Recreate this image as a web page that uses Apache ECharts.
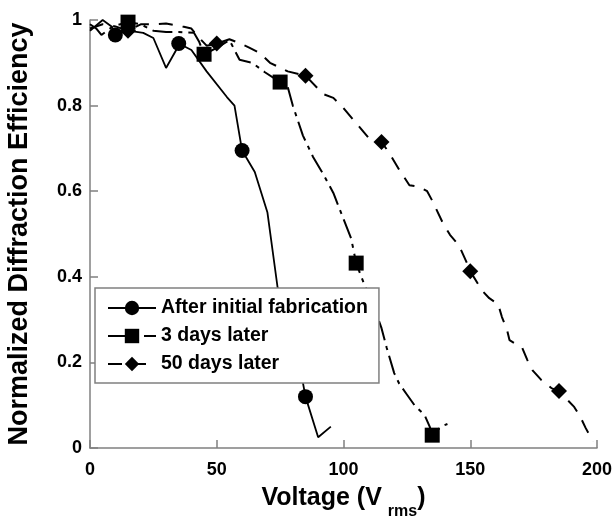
<!DOCTYPE html>
<html>
<head>
<meta charset="utf-8">
<script src="https://cdn.jsdelivr.net/npm/echarts@6/dist/echarts.min.js"></script>
<style>
  html, body { margin: 0; padding: 0; background: #fff; }
  #chart { width: 616px; height: 520px; }
</style>
</head>
<body>
<div id="chart"></div>
<script>
  // 曲线上的点 [电压, 效率]
  var freshLine = [[0,0.975],[5,1.0],[8.5,0.985],[15,0.975],[21,0.97],[25,0.958],[30,0.888],[34,0.93],
    [40,0.93],[46,0.88],[54,0.82],[57,0.8],[65,0.645],[70,0.55],[74,0.375],[80,0.25],[84,0.152],[90,0.025],[95,0.05]];
  var freshMarks = [[10,0.965],[35,0.945],[60,0.695],[85,0.12]];

  var day3Line = [[0,0.99],[2.5,0.98],[4.5,0.965],[9,0.985],[20,0.99],[25,0.975],[30,0.972],[35,0.972],[41,0.97],
    [43,0.95],[50,0.935],[55,0.953],[59,0.907],[64,0.9],[69,0.878],[77,0.865],[80,0.8],[84,0.73],[88,0.68],
    [92,0.64],[96,0.596],[100,0.535],[103,0.49],[108,0.385],[112,0.33],[115,0.28],[117,0.235],[120,0.175],
    [122,0.15],[125,0.125],[128,0.1],[132,0.077],[134,0.05],[138.5,0.05],[141,0.056]];
  var day3Marks = [[15,0.995],[45,0.92],[75,0.855],[105,0.432],[135,0.03]];

  var day50Line = [[0,0.98],[5,0.99],[10,0.985],[20,0.99],[25,0.99],[30,0.992],[37,0.984],[40,0.98],[42,0.965],
    [46,0.94],[55,0.955],[59,0.946],[63,0.935],[67,0.923],[71,0.9],[78,0.88],[92,0.827],[96,0.818],[100,0.794],
    [104,0.766],[108,0.738],[111,0.717],[118,0.69],[122,0.65],[126,0.614],[130,0.61],[133,0.6],[135,0.578],
    [139,0.528],[142,0.498],[145.5,0.474],[149,0.428],[154.5,0.369],[157.5,0.35],[161,0.336],[162.5,0.306],
    [164.5,0.276],[165.5,0.252],[170.5,0.234],[172.5,0.206],[174.5,0.182],[178,0.159],[182,0.14],[191,0.096],
    [193.5,0.072],[195.5,0.047],[198.5,0.015]];
  var day50Marks = [[15,0.975],[50,0.945],[85,0.87],[115,0.715],[150,0.413],[185,0.133]];

  var names = ['After initial fabrication', '3 days later', '50 days later'];

  var font = 'Liberation Sans, Arial, sans-serif';

  // 把线上的点和标记点合并，只有标记点显示符号
  function build(line, marks) {
    var all = line.map(function (p) { return { value: p, symbol: 'none' }; })
      .concat(marks.map(function (p) { return { value: p }; }));
    all.sort(function (a, b) { return a.value[0] - b.value[0]; });
    return all;
  }

  var myChart = echarts.init(document.getElementById('chart'));
  myChart.setOption({
    animation: false,
    color: ['#000', '#000', '#000'],
    grid: { left: 90, right: 19, top: 20, bottom: 72, containLabel: false, outerBoundsMode: 'none' },
    legend: {
      orient: 'vertical',
      left: 95,
      top: 288,
      padding: [10, 11, 9, 12],
      itemGap: 8,
      itemWidth: 48,
      itemHeight: 18,
      borderColor: '#808080',
      borderWidth: 1.5,
      backgroundColor: '#fff',
      textStyle: { color: '#000', fontSize: 19.5, fontWeight: 'bold', fontFamily: font },
      data: names
    },
    xAxis: {
      type: 'value',
      min: 0,
      max: 200,
      interval: 50,
      name: '{a|Voltage (V}{b|rms}{a|)}',
      nameLocation: 'middle',
      nameGap: 38,
      nameTextStyle: {
        rich: {
          a: { fontSize: 25, fontWeight: 'bold', fontFamily: font, color: '#000', verticalAlign: 'top' },
          b: { fontSize: 16, fontWeight: 'bold', fontFamily: font, color: '#000', verticalAlign: 'top', padding: [18, 0, 0, 6] }
        }
      },
      axisLine: { lineStyle: { color: '#808080', width: 1.5 } },
      axisTick: { inside: true, length: 8, lineStyle: { color: '#808080', width: 1.5 } },
      axisLabel: { color: '#000', fontSize: 18, fontWeight: 'bold', fontFamily: font, margin: 13 },
      splitLine: { show: false }
    },
    yAxis: {
      type: 'value',
      min: 0,
      max: 1,
      interval: 0.2,
      name: 'Normalized Diffraction Efficiency',
      nameLocation: 'middle',
      nameGap: 57,
      nameTextStyle: { color: '#000', fontSize: 27, fontWeight: 'bold', fontFamily: font },
      axisLine: { show: true, lineStyle: { color: '#808080', width: 1.5 } },
      axisTick: { show: true, inside: true, length: 8, lineStyle: { color: '#808080', width: 1.5 } },
      axisLabel: { color: '#000', fontSize: 18, fontWeight: 'bold', fontFamily: font, margin: 8 },
      splitLine: { show: false }
    },
    series: [
      {
        name: names[0],
        type: 'line',
        symbol: 'circle',
        symbolSize: 15,
        showAllSymbol: true,
        lineStyle: { color: '#000', width: 1.8, type: 'solid' },
        itemStyle: { color: '#000' },
        data: build(freshLine, freshMarks)
      },
      {
        name: names[1],
        type: 'line',
        symbol: 'rect',
        symbolSize: 15,
        showAllSymbol: true,
        lineStyle: { color: '#000', width: 2, type: [20, 6, 4, 6] },
        itemStyle: { color: '#000' },
        data: build(day3Line, day3Marks)
      },
      {
        name: names[2],
        type: 'line',
        symbol: 'diamond',
        symbolSize: 16,
        showAllSymbol: true,
        lineStyle: { color: '#000', width: 2, type: [14, 10] },
        itemStyle: { color: '#000' },
        data: build(day50Line, day50Marks)
      }
    ]
  });
</script>
</body>
</html>
